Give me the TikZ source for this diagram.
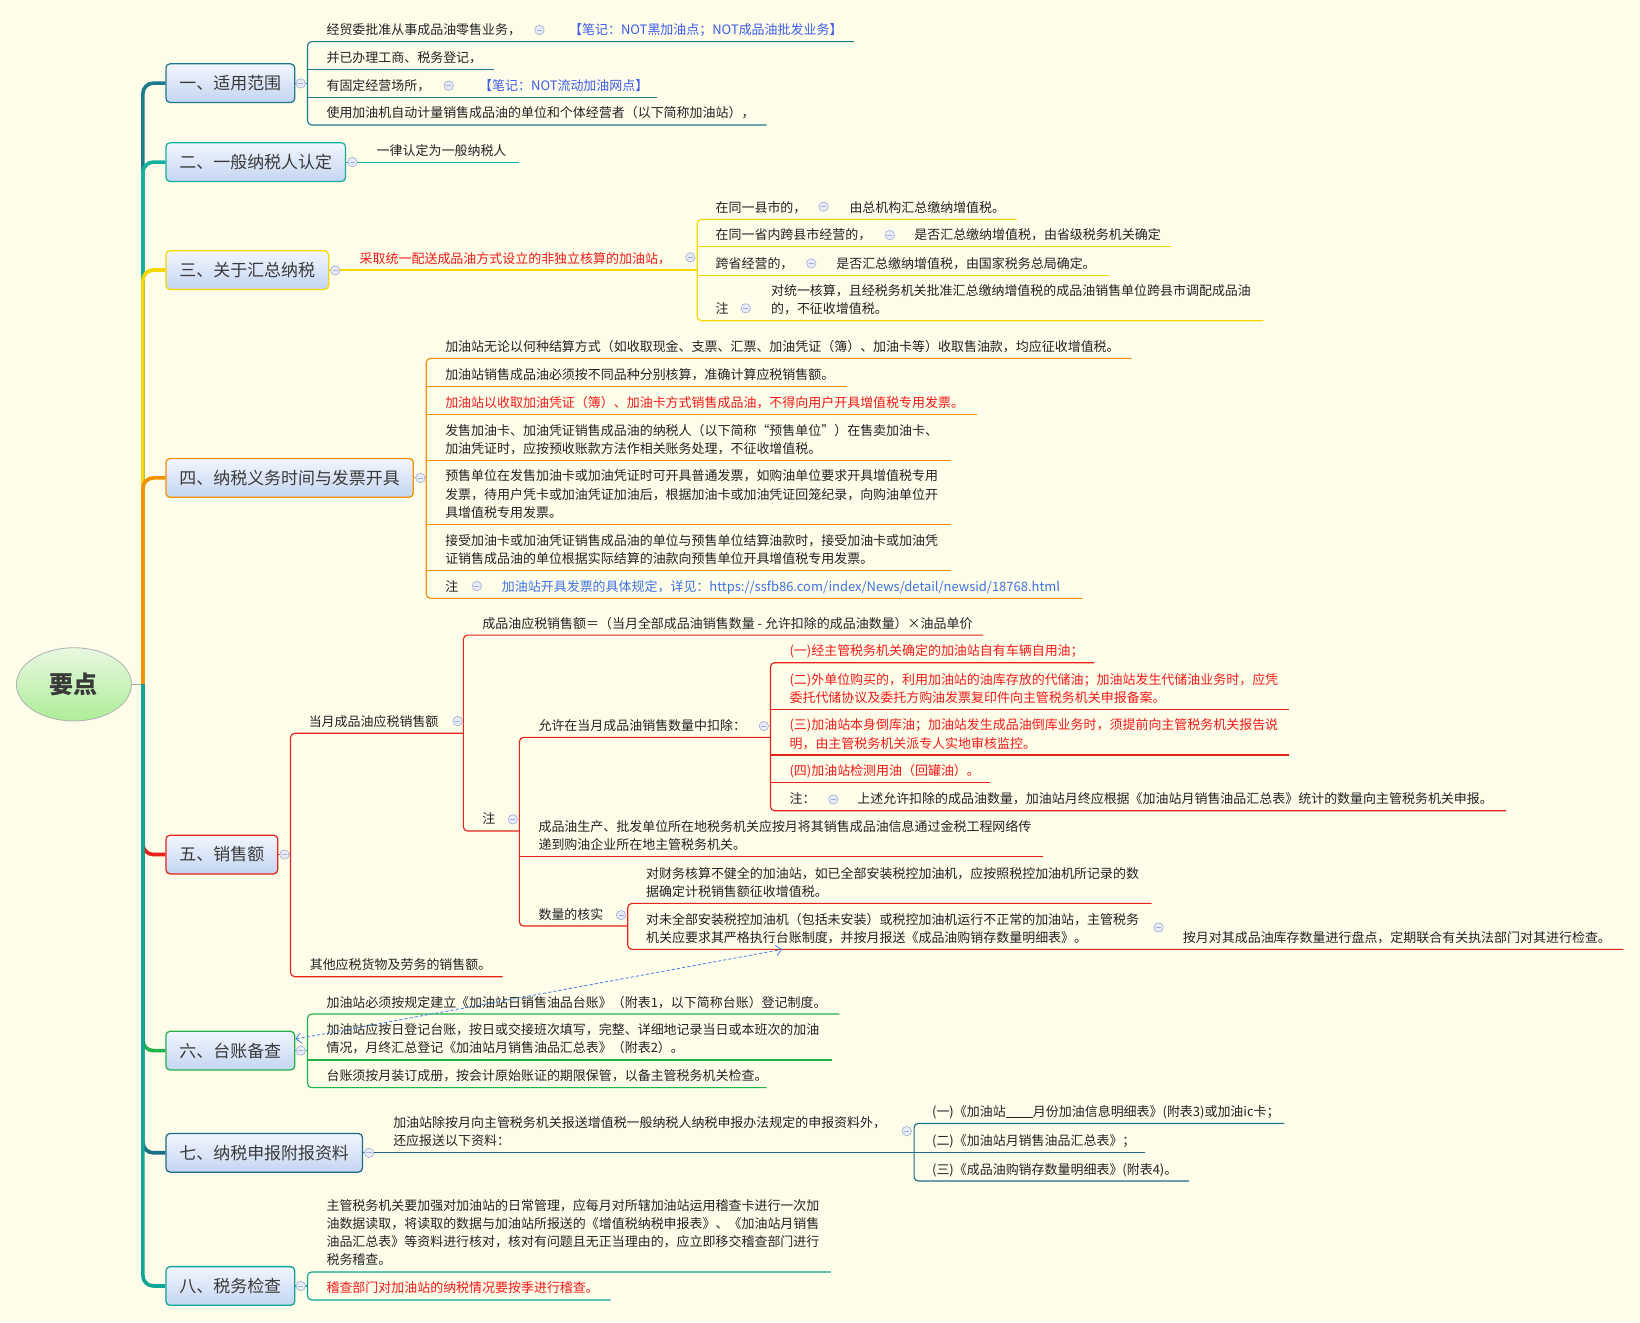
\documentclass[tikz,border=0pt]{standalone}
\usepackage{fontspec}
\setmainfont{Noto Sans CJK SC}
\usetikzlibrary{arrows.meta,positioning,shapes.geometric,calc}
\tikzset{>=Stealth}

\definecolor{bgc}{HTML}{FEFDE9}
\definecolor{ink}{HTML}{222222}
\definecolor{ink2}{HTML}{3A3A3A}
\definecolor{redt}{HTML}{F21A1A}
\definecolor{bluet}{HTML}{3D5CEB}
\definecolor{urlt}{HTML}{3F72E4}
\definecolor{relc}{HTML}{4A7FE0}
\definecolor{foldc}{HTML}{A3AED6}
\definecolor{foldbg}{HTML}{E8ECF8}
\definecolor{topA}{HTML}{F2F6FD}
\definecolor{topB}{HTML}{C3D5F2}
\definecolor{rootA}{HTML}{E8F8E0}
\definecolor{rootB}{HTML}{ADEE98}
\definecolor{cA}{HTML}{1F7A8C}
\definecolor{cB}{HTML}{14B09C}
\definecolor{cC}{HTML}{F5D800}
\definecolor{cD}{HTML}{F39200}
\definecolor{cE}{HTML}{E5231B}
\definecolor{cF}{HTML}{21B14B}
\definecolor{cG}{HTML}{1C6E86}
\definecolor{cH}{HTML}{10A596}

\begin{document}
\begin{tikzpicture}[x=1pt, y=-1pt,
    root/.style={ellipse, draw=gray!60, line width=0.8pt, top color=rootA, bottom color=rootB,
      minimum width=110pt, minimum height=70pt, font=\fontsize{23}{26}\selectfont\bfseries, text=ink2},
    topic/.style={anchor=west, rounded corners=4pt, line width=1.2pt, top color=topA, bottom color=topB,
      minimum height=37pt, inner xsep=13pt, font=\fontsize{16.2}{19}\selectfont, text=ink2},
    leaf/.style={anchor=south west, inner xsep=0pt, inner ysep=4pt, text depth=2.5pt, align=left,
      font=\fontsize{12.4}{17.5}\selectfont, text=ink},
    fold/.style={circle, draw=foldc, fill=foldbg, minimum size=9pt, inner sep=0pt, line width=0.6pt,
      path picture={\draw[foldc, line width=0.7pt] ([xshift=-2.4pt]path picture bounding box.center)
        -- ([xshift=2.4pt]path picture bounding box.center);}},
    trunk/.style={line width=3.5pt, rounded corners=10pt},
    link/.style={line width=1.1pt, rounded corners=4pt},
    rel/.style={{Straight Barb[length=5pt]}-{Straight Barb[length=5pt]}, draw=relc, line width=0.8pt, dash pattern=on 3pt off 2pt}
  ]
  \fill[bgc] (0,0) rectangle (1568,1264);
  \useasboundingbox (0,0) rectangle (1568,1264);

  % root and main topics
  \node[root] (root) at (70.7,654.3) {要点};
  \coordinate (k0) at (136.6,654.3);
  \node[topic, draw=cA] (n1) at (158,79.5)   {一、适用范围};
  \node[topic, draw=cB] (n2) at (158,155)    {二、一般纳税人认定};
  \node[topic, draw=cC] (n3) at (158,258.2)  {三、关于汇总纳税};
  \node[topic, draw=cD] (n4) at (158,456.9)  {四、纳税义务时间与发票开具};
  \node[topic, draw=cE] (n5) at (158,817)    {五、销售额};
  \node[topic, draw=cF] (n6) at (158,1004.5) {六、台账备查};
  \node[topic, draw=cG] (n7) at (158,1102.2) {七、纳税申报附报资料};
  \node[topic, draw=cH] (n8) at (158,1229.5) {八、税务检查};

  \draw[gray!70, line width=0.8pt] (root.east) -- (k0);
  \foreach \n/\c in {n1/cA,n2/cB,n3/cC,n4/cD,n5/cE,n6/cF,n7/cG,n8/cH}
    \draw[trunk, draw=\c] (k0) |- (\n.west);

  % 一
  \coordinate (k1) at (294,79.5);
  \node[leaf] (a1) at (312,39.8) {经贸委批准从事成品油零售业务，};
  \node[leaf, text=bluet] (a1n) at (544,39.8) {【笔记：NOT黑加油点；NOT成品油批发业务】};
  \node[leaf] (a2) at (312,66.3) {并已办理工商、税务登记，};
  \node[leaf] (a3) at (312,93) {有固定经营场所，};
  \node[leaf, text=bluet] (a3n) at (458,93) {【笔记：NOT流动加油网点】};
  \node[leaf] (a4) at (312,119.5) {使用加油机自动计量销售成品油的单位和个体经营者（以下简称加油站），};
  \draw[link, cA] (816.6,0 |- a1.south) -- (k1 |- a1.south) -- (k1 |- a4.south) -- (733,0 |- a4.south);
  \draw[link, cA] (k1 |- a2.south) -- (472,0 |- a2.south);
  \draw[link, cA] (k1 |- a3.south) -- (628,0 |- a3.south);
  \draw[link, cA] (n1.east) -- (k1 |- n1.east);
  \node[fold] (f1) at (287.5,79.7) {};
  \node[fold] (fa1) at (515.8,28.7) {};
  \node[fold] (fa3) at (429,82) {};

  % 二
  \node[leaf] (b1) at (360,155) {一律认定为一般纳税人};
  \draw[link, cB] (n2.east) -- (496,0 |- b1.south);
  \node[fold] (f2) at (337,155) {};

  % 三
  \coordinate (k3) at (666.6,258.2);
  \node[leaf, text=redt] (c1) at (343.7,258.2) {采取统一配送成品油方式设立的非独立核算的加油站，};
  \node[leaf] (c2) at (684,209.7) {在同一县市的，};
  \node[leaf] (c2n) at (812,209.7) {由总机构汇总缴纳增值税。};
  \node[leaf] (c3) at (684,235.8) {在同一省内跨县市经营的，};
  \node[leaf] (c3n) at (874,235.8) {是否汇总缴纳增值税，由省级税务机关确定};
  \node[leaf] (c4) at (684,263) {跨省经营的，};
  \node[leaf] (c4n) at (799.4,263) {是否汇总缴纳增值税，由国家税务总局确定。};
  \node[leaf] (c5) at (684,306.6) {注};
  \node[leaf] (c5n) at (737,306.6) {对统一核算，且经税务机关批准汇总缴纳增值税的成品油销售单位跨县市调配成品油\\的，不征收增值税。};
  \draw[link, cC] (n3.east) -- (k3 |- c1.south);
  \draw[link, cC] (972,0 |- c2.south) -- (k3 |- c2.south) -- (k3 |- c5.south) -- (1208,0 |- c5.south);
  \draw[link, cC] (k3 |- c3.south) -- (1120,0 |- c3.south);
  \draw[link, cC] (k3 |- c4.south) -- (1060,0 |- c4.south);
  \node[fold] (f3) at (320.5,258.5) {};
  \node[fold] (fc1) at (660,246) {};
  \node[fold] (fc2) at (787.4,197.6) {};
  \node[fold] (fc3) at (850.7,224.7) {};
  \node[fold] (fc4) at (775.7,251.8) {};
  \node[fold] (fc5) at (713,294.8) {};

  % 四
  \coordinate (k4) at (407.6,456.9);
  \node[leaf] (d1) at (425.5,342.6) {加油站无论以何种结算方式（如收取现金、支票、汇票、加油凭证（簿）、加油卡等）收取售油款，均应征收增值税。};
  \node[leaf] (d2) at (425.5,369.7) {加油站销售成品油必须按不同品种分别核算，准确计算应税销售额。};
  \node[leaf, text=redt] (d3) at (425.5,396.2) {加油站以收取加油凭证（簿）、加油卡方式销售成品油，不得向用户开具增值税专用发票。};
  \node[leaf] (d4) at (425.5,440.5) {发售加油卡、加油凭证销售成品油的纳税人（以下简称“预售单位”）在售卖加油卡、\\加油凭证时，应按预收账款方法作相关账务处理，不征收增值税。};
  \node[leaf] (d5) at (425.5,501.3) {预售单位在发售加油卡或加油凭证时可开具普通发票，如购油单位要求开具增值税专用\\发票，待用户凭卡或加油凭证加油后，根据加油卡或加油凭证回笼纪录，向购油单位开\\具增值税专用发票。};
  \node[leaf] (d6) at (425.5,545.7) {接受加油卡或加油凭证销售成品油的单位与预售单位结算油款时，接受加油卡或加油凭\\证销售成品油的单位根据实际结算的油款向预售单位开具增值税专用发票。};
  \node[leaf] (d7) at (425.5,572.1) {注};
  \node[leaf, text=urlt] (d7n) at (479.7,572.1) {加油站开具发票的具体规定，详见：https://ssfb86.com/index/News/detail/newsid/18768.html};
  \draw[link, cD] (1082,0 |- d1.south) -- (k4 |- d1.south) -- (k4 |- d7.south) -- (1035,0 |- d7.south);
  \draw[link, cD] (k4 |- d2.south) -- (809.5,0 |- d2.south);
  \draw[link, cD] (k4 |- d3.south) -- (933.8,0 |- d3.south);
  \draw[link, cD] (k4 |- d4.south) -- (909,0 |- d4.south);
  \draw[link, cD] (k4 |- d5.south) -- (909,0 |- d5.south);
  \draw[link, cD] (k4 |- d6.south) -- (909,0 |- d6.south);
  \draw[link, cD] (n4.east) -- (k4 |- n4.east);
  \node[fold] (f4) at (402,457) {};
  \node[fold] (fd7) at (455.9,560.3) {};

  % 五
  \coordinate (k5) at (277.8,817);
  \coordinate (k51) at (443,0);
  \coordinate (k52) at (496.6,0);
  \coordinate (k53) at (736.6,0);
  \coordinate (k54) at (600.2,0);
  \node[leaf] (e1) at (295,701.1) {当月成品油应税销售额};
  \node[leaf] (e2) at (296,933.8) {其他应税货物及劳务的销售额。};
  \node[leaf] (e11) at (461,607.2) {成品油应税销售额＝（当月全部成品油销售数量 - 允许扣除的成品油数量）×油品单价};
  \node[leaf] (e12) at (461,794.5) {注};
  \node[leaf] (g1) at (514.7,705) {允许在当月成品油销售数量中扣除：};
  \node[leaf] (g2) at (514.7,819) {成品油生产、批发单位所在地税务机关应按月将其销售成品油信息通过金税工程网络传\\递到购油企业所在地主管税务机关。};
  \node[leaf] (g3) at (514.7,885.4) {数量的核实};
  \node[leaf, text=redt] (h1) at (754.7,633.6) {(一)经主管税务机关确定的加油站自有车辆自用油；};
  \node[leaf, text=redt] (h2) at (754.7,678.2) {(二)外单位购买的，利用加油站的油库存放的代储油；加油站发生代储油业务时，应凭\\委托代储协议及委托方购油发票复印件向主管税务机关申报备案。};
  \node[leaf, text=redt] (h3) at (754.7,721.9) {(三)加油站本身倒库油；加油站发生成品油倒库业务时，须提前向主管税务机关报告说\\明，由主管税务机关派专人实地审核监控。};
  \node[leaf, text=redt] (h4) at (754.7,748.3) {(四)加油站检测用油（回罐油）。};
  \node[leaf] (h5) at (754.7,775.1) {注：};
  \node[leaf] (h5n) at (819.5,775.1) {上述允许扣除的成品油数量，加油站月终应根据《加油站月销售油品汇总表》统计的数量向主管税务机关申报。};
  \node[leaf] (q1) at (617.6,863.7) {对财务核算不健全的加油站，如已全部安装税控加油机，应按照税控加油机所记录的数\\据确定计税销售额征收增值税。};
  \node[leaf] (q2) at (617.6,907.7) {对未全部安装税控加油机（包括未安装）或税控加油机运行不正常的加油站，主管税务\\机关应要求其严格执行台账制度，并按月报送《成品油购销存数量明细表》。};
  \node[leaf] (q2n) at (1130.8,907.7) {按月对其成品油库存数量进行盘点，定期联合有关执法部门对其进行检查。};
  \draw[link, cE] (n5.east) -- (k5 |- n5.east);
  \draw[link, cE] (k51 |- e1.south) -- (k5 |- e1.south) -- (k5 |- e2.south) -- (480.6,0 |- e2.south);
  \draw[link, cE] (940,0 |- e11.south) -- (k51 |- e11.south) -- (k51 |- e12.south) -- (k52 |- e12.south);
  \draw[link, cE] (k53 |- g1.south) -- (k52 |- g1.south) -- (k52 |- g3.south) -- (k54 |- g3.south);
  \draw[link, cE] (k52 |- g2.south) -- (997.3,0 |- g2.south);
  \draw[link, cE] (1046,0 |- h1.south) -- (k53 |- h1.south) -- (k53 |- h5.south) -- (1440,0 |- h5.south);
  \draw[link, cE] (k53 |- h2.south) -- (1232.8,0 |- h2.south);
  \draw[link, cE] (k53 |- h3.south) -- (1232.8,0 |- h3.south);
  \draw[link, cE] (k53 |- h4.south) -- (946.7,0 |- h4.south);
  \draw[link, cE] (1101,0 |- q1.south) -- (k54 |- q1.south) -- (k54 |- q2.south) -- (1552,0 |- q2.south);
  \node[fold] (f5) at (272,817) {};
  \node[fold] (fe1) at (437.6,689.4) {};
  \node[fold] (fe12) at (490.3,783.4) {};
  \node[fold] (fg1) at (730.3,694.2) {};
  \node[fold] (fg3) at (593.8,874.9) {};
  \node[fold] (fh5) at (796.7,764.3) {};
  \node[fold] (fq2) at (1107.7,886.7) {};

  % 六
  \coordinate (k6) at (294,1004.5);
  \node[leaf] (m1) at (312,969.5) {加油站必须按规定建立《加油站日销售油品台账》（附表1，以下简称台账）登记制度。};
  \node[leaf] (m2) at (312,1013.4) {加油站应按日登记台账，按日或交接班次填写，完整、详细地记录当日或本班次的加油\\情况，月终汇总登记《加油站月销售油品汇总表》（附表2）。};
  \node[leaf] (m3) at (312,1039.9) {台账须按月装订成册，按会计原始账证的期限保管，以备主管税务机关检查。};
  \draw[link, cF] (802.4,0 |- m1.south) -- (k6 |- m1.south) -- (k6 |- m3.south) -- (733,0 |- m3.south);
  \draw[link, cF] (k6 |- m2.south) -- (795.5,0 |- m2.south);
  \draw[link, cF] (n6.east) -- (k6 |- n6.east);
  \node[fold] (f6) at (287.5,1004.5) {};

  % 七
  \coordinate (k7) at (874,1102.2);
  \node[leaf] (p1) at (375.8,1102.2) {加油站除按月向主管税务机关报送增值税一般纳税人纳税申报办法规定的申报资料外，\\还应报送以下资料：};
  \node[leaf] (p11) at (891,1074) {(一)《加油站\rule[-1.5pt]{26pt}{0.6pt}月份加油信息明细表》(附表3)或加油ic卡；};
  \node[leaf] (p12) at (891,1102.2) {(二)《加油站月销售油品汇总表》；};
  \node[leaf] (p13) at (891,1129.2) {(三)《成品油购销存数量明细表》(附表4)。};
  \draw[link, cG] (n7.east) -- (k7 |- p1.south);
  \draw[link, cG] (1228,0 |- p11.south) -- (k7 |- p11.south) -- (k7 |- p13.south) -- (1137,0 |- p13.south);
  \draw[link, cG] (k7 |- p12.south) -- (1095,0 |- p12.south);
  \node[fold] (f7) at (352.8,1102.2) {};
  \node[fold] (fp1) at (867,1081.4) {};

  % 八
  \coordinate (k8) at (294,1229.5);
  \node[leaf] (r1) at (312,1216.1) {主管税务机关要加强对加油站的日常管理，应每月对所辖加油站运用稽查卡进行一次加\\油数据读取，将读取的数据与加油站所报送的《增值税纳税申报表》、《加油站月销售\\油品汇总表》等资料进行核对，核对有问题且无正当理由的，应立即移交稽查部门进行\\税务稽查。};
  \node[leaf, text=redt] (r2) at (312,1242.9) {稽查部门对加油站的纳税情况要按季进行稽查。};
  \draw[link, cH] (794.5,0 |- r1.south) -- (k8 |- r1.south) -- (k8 |- r2.south) -- (583.8,0 |- r2.south);
  \draw[link, cH] (n8.east) -- (k8 |- n8.east);
  \node[fold] (f8) at (287.5,1229.5) {};

  % relationship
  \draw[rel] ([yshift=11pt]n6.east) -- ($(q2.south west)+(130,0)$);
\end{tikzpicture}
\end{document}
